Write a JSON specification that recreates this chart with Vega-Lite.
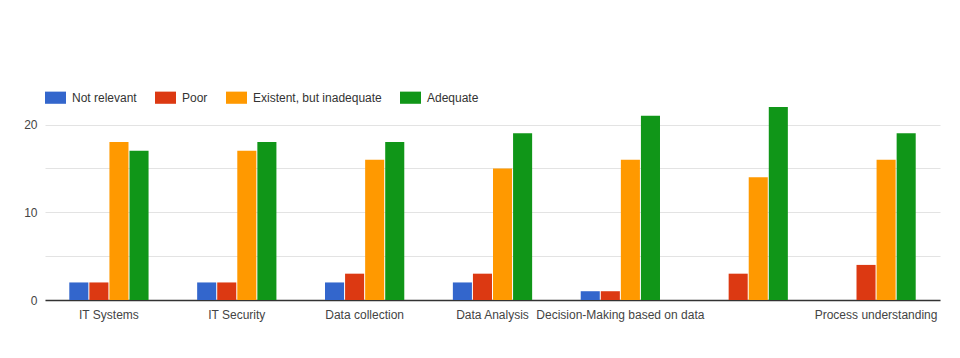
{
  "$schema": "https://vega.github.io/schema/vega-lite/v6.json",
  "autosize": "none",
  "width": 895,
  "height": 193,
  "padding": {"left": 45, "top": 107, "right": 20, "bottom": 58},
  "background": "white",
  "config": {
    "font": "Liberation Sans",
    "view": {"stroke": null},
    "axis": {"labelFont": "Liberation Sans", "labelColor": "#444444", "labelFontSize": 12}
  },
  "data": {
    "values": [
      {"area": "IT Systems", "rating": "Not relevant", "count": 2},
      {"area": "IT Systems", "rating": "Poor", "count": 2},
      {"area": "IT Systems", "rating": "Existent, but inadequate", "count": 18},
      {"area": "IT Systems", "rating": "Adequate", "count": 17},
      {"area": "IT Security", "rating": "Not relevant", "count": 2},
      {"area": "IT Security", "rating": "Poor", "count": 2},
      {"area": "IT Security", "rating": "Existent, but inadequate", "count": 17},
      {"area": "IT Security", "rating": "Adequate", "count": 18},
      {"area": "Data collection", "rating": "Not relevant", "count": 2},
      {"area": "Data collection", "rating": "Poor", "count": 3},
      {"area": "Data collection", "rating": "Existent, but inadequate", "count": 16},
      {"area": "Data collection", "rating": "Adequate", "count": 18},
      {"area": "Data Analysis", "rating": "Not relevant", "count": 2},
      {"area": "Data Analysis", "rating": "Poor", "count": 3},
      {"area": "Data Analysis", "rating": "Existent, but inadequate", "count": 15},
      {"area": "Data Analysis", "rating": "Adequate", "count": 19},
      {"area": "Decision-Making based on data", "rating": "Not relevant", "count": 1},
      {"area": "Decision-Making based on data", "rating": "Poor", "count": 1},
      {"area": "Decision-Making based on data", "rating": "Existent, but inadequate", "count": 16},
      {"area": "Decision-Making based on data", "rating": "Adequate", "count": 21},
      {"area": " ", "rating": "Not relevant", "count": 0},
      {"area": " ", "rating": "Poor", "count": 3},
      {"area": " ", "rating": "Existent, but inadequate", "count": 14},
      {"area": " ", "rating": "Adequate", "count": 22},
      {"area": "Process understanding", "rating": "Not relevant", "count": 0},
      {"area": "Process understanding", "rating": "Poor", "count": 4},
      {"area": "Process understanding", "rating": "Existent, but inadequate", "count": 16},
      {"area": "Process understanding", "rating": "Adequate", "count": 19}
    ]
  },
  "mark": {"type": "bar"},
  "encoding": {
    "x": {
      "field": "area",
      "type": "nominal",
      "sort": null,
      "scale": {"paddingInner": 0.38, "paddingOuter": 0.19},
      "axis": {
        "title": null,
        "labelAngle": 0,
        "ticks": false,
        "domainColor": "#333333",
        "domainWidth": 1.5,
        "labelPadding": 9,
        "grid": false
      }
    },
    "xOffset": {
      "field": "rating",
      "type": "nominal",
      "sort": ["Not relevant", "Poor", "Existent, but inadequate", "Adequate"],
      "scale": {"paddingInner": 0.05}
    },
    "y": {
      "field": "count",
      "type": "quantitative",
      "scale": {"domain": [0, 22], "nice": false},
      "axis": {
        "title": null,
        "values": [0, 5, 10, 15, 20],
        "labelExpr": "datum.value % 10 === 0 ? datum.label : ''",
        "domain": false,
        "ticks": false,
        "gridColor": "#e3e3e3",
        "labelPadding": 8
      }
    },
    "color": {
      "field": "rating",
      "type": "nominal",
      "sort": ["Not relevant", "Poor", "Existent, but inadequate", "Adequate"],
      "scale": {
        "domain": ["Not relevant", "Poor", "Existent, but inadequate", "Adequate"],
        "range": ["#3366cc", "#dc3912", "#ff9900", "#109618"]
      },
      "legend": {
        "title": null,
        "orient": "top",
        "direction": "horizontal",
        "offset": 3,
        "padding": 0,
        "symbolType": "M-1,-0.58H1V0.58H-1Z",
        "symbolSize": 440,
        "symbolStrokeWidth": 0,
        "symbolOpacity": 1,
        "labelFont": "Liberation Sans",
        "labelFontSize": 12,
        "labelColor": "#333333",
        "columnPadding": 18,
        "labelOffset": 6
      }
    }
  }
}
